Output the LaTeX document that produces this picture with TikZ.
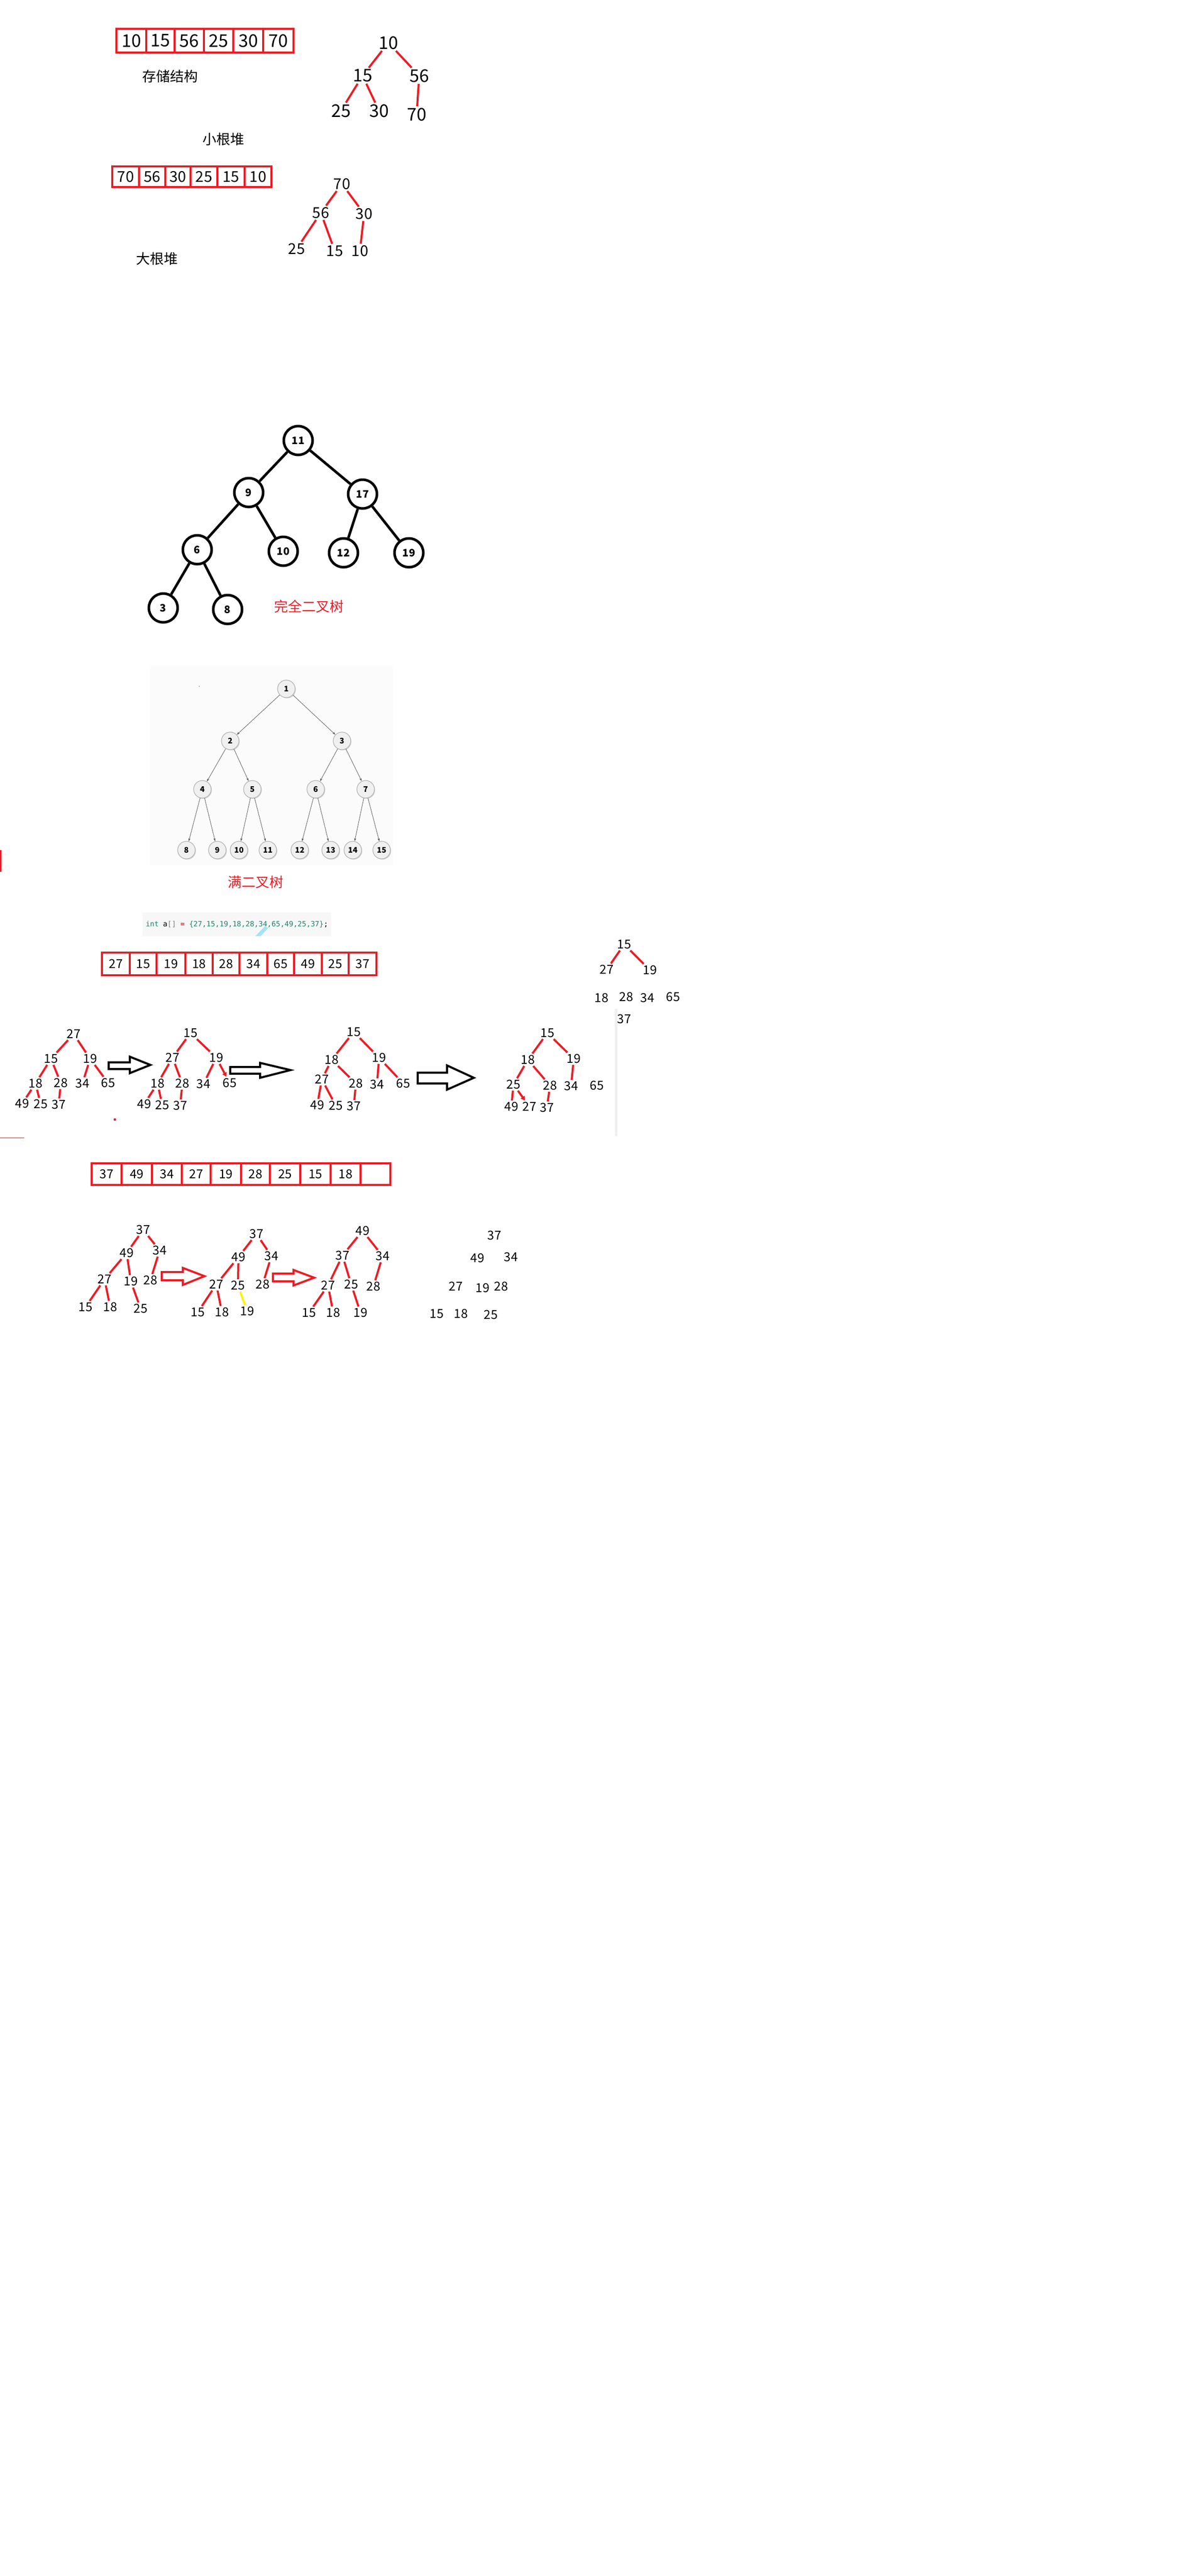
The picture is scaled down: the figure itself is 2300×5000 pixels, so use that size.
\documentclass[tikz,border=0pt]{standalone}
\usepackage{fontspec}
\setmainfont{Noto Sans CJK SC}
\newfontfamily\codefont{DejaVu Sans Mono}
\usetikzlibrary{arrows.meta,shadows}
\definecolor{paintred}{RGB}{237,28,36}
\definecolor{paintyellow}{RGB}{255,242,0}
\definecolor{codeteal}{RGB}{30,130,110}
\newcommand\bigdig{\fontsize{34}{34}\selectfont}
\newcommand\middig{\fontsize{29}{29}\selectfont}
\newcommand\smalldig{\fontsize{24}{24}\selectfont}
\newcommand\cnlab{\fontsize{27}{27}\selectfont}
\tikzset{
  cell/.style={draw=paintred, line width=4pt, inner sep=0pt},
  bignum/.style={inner sep=3pt, font=\bigdig},
  midnum/.style={inner sep=3pt, font=\middig},
  num/.style={inner sep=3pt, font=\smalldig},
  cnlabel/.style={inner sep=0pt, font=\cnlab},
  redge/.style={draw=paintred, line width=4pt},
  cnode/.style={circle, draw, line width=5pt, minimum size=56pt, inner sep=0pt, font=\bfseries\fontsize{20}{20}\selectfont},
  fnode/.style={circle, draw=gray!60, fill=gray!12, line width=1.2pt, minimum size=34pt, inner sep=0pt,
    font=\bfseries\fontsize{15}{15}\selectfont,
    drop shadow={shadow xshift=1.5pt, shadow yshift=-1.5pt, fill=gray!60, opacity=0.5}},
  fedge/.style={draw=gray!70!black, line width=0.8pt, -{Stealth[length=6pt,width=4pt]}},
  hollow/.style={draw, line width=4pt, line join=miter}
}
\begin{document}
\begin{tikzpicture}[x=1pt,y=-1pt]
\useasboundingbox (0,0) rectangle (2300,5000);
\fill[white] (0,0) rectangle (2300,5000);

% storage of the small heap
\foreach \x/\w/\v [count=\i] in {255/58/10, 311.5/55/15, 367.5/57/56, 424.5/57/25, 482/58/30, 540.5/59/70}
  \node[cell, minimum width=\w pt, minimum height=46pt, font=\bigdig] (sa\i) at (\x,79) {\v};
\node[cnlabel] (lstore) at (330,148) {存储结构};
\node[cnlabel] (lsmall) at (434,270) {小根堆};

\node[bignum] (ta0) at (754,83) {10};
\node[bignum] (ta1) at (704,147) {15};
\node[bignum] (ta2) at (814,147) {56};
\node[bignum] (ta3) at (662,215) {25};
\node[bignum] (ta4) at (736,215) {30};
\node[bignum] (ta5) at (809,222) {70};
\foreach \a/\b in {ta0/ta1, ta0/ta2, ta1/ta3, ta1/ta4, ta2/ta5}
  \draw[redge] (\a) -- (\b);

% big heap
\foreach \x/\w/\v [count=\i] in {244/52/70, 295.5/51/56, 345.5/49/30, 396/52/25, 448.5/53/15, 501/52/10}
  \node[cell, minimum width=\w pt, minimum height=40pt, font=\middig] (sb\i) at (\x,343) {\v};
\node[cnlabel] (lbig) at (305,502) {大根堆};

\node[midnum] (tb0) at (664,357) {70};
\node[midnum] (tb1) at (623,413) {56};
\node[midnum] (tb2) at (707,415) {30};
\node[midnum] (tb3) at (576,483) {25};
\node[midnum] (tb4) at (650,487) {15};
\node[midnum] (tb5) at (699,487) {10};
\foreach \a/\b in {tb0/tb1, tb0/tb2, tb1/tb3, tb1/tb4, tb2/tb5}
  \draw[redge] (\a) -- (\b);

% complete binary tree
\node[cnode] (c11) at (579,855) {11};
\node[cnode] (c9) at (483,956) {9};
\node[cnode] (c17) at (704,959) {17};
\node[cnode] (c6) at (383,1067) {6};
\node[cnode] (c10) at (550,1070) {10};
\node[cnode] (c12) at (667,1073) {12};
\node[cnode] (c19) at (794,1073) {19};
\node[cnode] (c3) at (317,1180) {3};
\node[cnode] (c8) at (442,1183) {8};
\foreach \a/\b in {c11/c9, c11/c17, c9/c6, c9/c10, c17/c12, c17/c19, c6/c3, c6/c8}
  \draw[line width=5pt] (\a) -- (\b);
\node[cnlabel, text=paintred] (lcomplete) at (600,1177) {完全二叉树};

% full binary tree
\fill[gray!3] (292,1292) rectangle (763,1680);
\fill[gray] (387,1332) circle (1);
\node[fnode] (f1) at (556,1337) {1};
\node[fnode] (f2) at (447,1438) {2};
\node[fnode] (f3) at (664,1438) {3};
\foreach \x [count=\i from 4] in {393,490,613,710}
  \node[fnode] (f\i) at (\x,1532) {\i};
\foreach \x [count=\i from 8] in {362,422,464,520,582,642,685,741}
  \node[fnode] (f\i) at (\x,1650) {\i};
\foreach \p in {1,...,7} {
  \pgfmathtruncatemacro\l{2*\p}
  \pgfmathtruncatemacro\r{2*\p+1}
  \draw[fedge] (f\p) -- (f\l);
  \draw[fedge] (f\p) -- (f\r);
}
\node[cnlabel, text=paintred] (lfull) at (496,1712) {满二叉树};
\fill[paintred] (0,1650) rectangle (3,1692);

% the array in code and in cells
\node[fill=gray!6, minimum width=366pt, minimum height=46pt, inner sep=0pt, font=\codefont\fontsize{14}{14}\selectfont] (code) at (460,1794)
  {{\color{codeteal}int} a{\color{gray}[]} {\color{red!60!black}=} {\color{codeteal}\{27,15,19,18,28,34,65,49,25,37\}};};
\fill[cyan!35] (496,1817) -- (506,1817) -- (521,1801) -- (514,1798) -- cycle;
\foreach \x/\w/\v [count=\i] in {225/54/27, 278/52/15, 332/56/19, 386.5/53/18, 439/52/28, 492/54/34, 545/52/65, 598/54/49, 651/52/25, 704/54/37}
  \node[cell, minimum width=\w pt, minimum height=44pt, font=\smalldig] (sc\i) at (\x,1871) {\v};

% first heap, partly built
\node[num] (s0) at (1212,1833) {15};
\node[num] (s1) at (1178,1882) {27};
\node[num] (s2) at (1262,1883) {19};
\node[num] (s3) at (1168,1937) {18};
\node[num] (s4) at (1216,1935) {28};
\node[num] (s5) at (1257,1937) {34};
\node[num] (s6) at (1307,1935) {65};
\node[num] (s7) at (1212,1978) {37};
\draw[redge] (s0) -- (s1);
\draw[redge] (s0) -- (s2);
\fill[gray!12] (1194,1958) rectangle (1199,2205);

% building steps
\foreach \n/\x/\y/\v in {ha0/143/2007/27, ha1/99/2055/15, ha2/175/2055/19, ha3/69/2103/18, ha4/118/2102/28,
    ha5/160/2103/34, ha6/210/2102/65, ha7/43/2142/49, ha8/79/2143/25, ha9/114/2144/37,
    hb0/370/2005/15, hb1/335/2053/27, hb2/420/2053/19, hb3/306/2103/18, hb4/354/2103/28,
    hb5/395/2104/34, hb6/446/2102/65, hb7/280/2143/49, hb8/315/2145/25, hb9/350/2146/37,
    hc0/687/2003/15, hc1/644/2057/18, hc2/736/2053/19, hc3/625/2095/27, hc4/691/2103/28,
    hc5/732/2105/34, hc6/783/2103/65, hc7/616/2145/49, hc8/652/2146/25, hc9/687/2147/37,
    hd0/1063/2005/15, hd1/1025/2057/18, hd2/1114/2055/19, hd3/997/2105/25, hd4/1068/2107/28,
    hd5/1109/2108/34, hd6/1159/2107/65, hd7/993/2148/49, hd8/1028/2148/27, hd9/1062/2150/37}
  \node[num] (\n) at (\x,\y) {\v};
\foreach \t in {ha,hb,hc} {
  \foreach \a/\b in {0/1, 0/2, 1/3, 1/4, 2/5, 3/7, 3/8, 4/9}
    \draw[redge] (\t\a) -- (\t\b);
}
\draw[redge] (ha2) -- (ha6);
\draw[redge, -{Triangle[length=8pt,width=9pt]}] (hb2) -- (hb6);
\draw[redge] (hc2) -- (hc6);
\foreach \a/\b in {0/1, 0/2, 1/3, 1/4, 2/5, 3/7, 4/9}
  \draw[redge] (hd\a) -- (hd\b);
\draw[redge, -{Triangle[length=8pt,width=9pt]}] (hd3) -- (hd8);

\draw[hollow] (211,2062) -- (252,2062) -- (252,2051) -- (292,2067) -- (252,2083) -- (252,2075) -- (211,2075) -- cycle;
\draw[hollow] (447,2071) -- (505,2071) -- (505,2063) -- (564,2077) -- (505,2092) -- (505,2084) -- (447,2084) -- cycle;
\draw[hollow] (811,2082) -- (868,2082) -- (868,2068) -- (920,2092) -- (868,2115) -- (868,2103) -- (811,2103) -- cycle;
\fill[paintred] (223,2173) circle (2.5);
\draw[paintred, line width=1pt] (0,2208) -- (47,2208);

% second array
\foreach \x/\w/\v [count=\i] in {207/58/37, 265.5/59/49, 324/58/34, 381/56/27, 438.5/59/19, 496/56/28, 553.5/59/25, 612.5/59/15, 671/58/18, 729/58/{}}
  \node[cell, minimum width=\w pt, minimum height=42pt, font=\smalldig] (sd\i) at (\x,2279) {\v};

% sorting steps
\foreach \n/\x/\y/\v in {he0/278/2387/37, he1/246/2432/49, he2/310/2427/34, he3/203/2483/27, he4/254/2487/19,
    he5/292/2485/28, he6/166/2537/15, he7/214/2537/18, he8/273/2540/25,
    hf0/498/2395/37, hf1/463/2440/49, hf2/527/2438/34, hf3/420/2493/27, hf4/462/2495/25,
    hf5/510/2493/28, hf6/384/2547/15, hf7/431/2547/18, hf8/480/2545/19,
    hg0/704/2389/49, hg1/665/2437/37, hg2/743/2438/34, hg3/637/2495/27, hg4/682/2493/25,
    hg5/725/2497/28, hg6/600/2548/15, hg7/647/2548/18, hg8/700/2548/19,
    hl0/960/2398/37, hl1/927/2442/49, hl2/992/2440/34, hl3/885/2497/27, hl4/937/2500/19,
    hl5/973/2497/28, hl6/848/2550/15, hl7/895/2550/18, hl8/953/2552/25}
  \node[num] (\n) at (\x,\y) {\v};
\foreach \t in {he,hf,hg} {
  \foreach \a/\b in {0/1, 0/2, 1/3, 1/4, 2/5, 3/6, 3/7}
    \draw[redge] (\t\a) -- (\t\b);
}
\draw[redge] (he4) -- (he8);
\draw[redge, draw=paintyellow] (hf4) -- (hf8);
\draw[redge] (hg4) -- (hg8);

\draw[hollow, draw=paintred] (314,2469) -- (355,2469) -- (355,2461) -- (397,2477) -- (355,2494) -- (355,2485) -- (314,2485) -- cycle;
\draw[hollow, draw=paintred] (530,2472) -- (570,2472) -- (570,2465) -- (610,2480) -- (570,2495) -- (570,2487) -- (530,2487) -- cycle;
\end{tikzpicture}
\end{document}
